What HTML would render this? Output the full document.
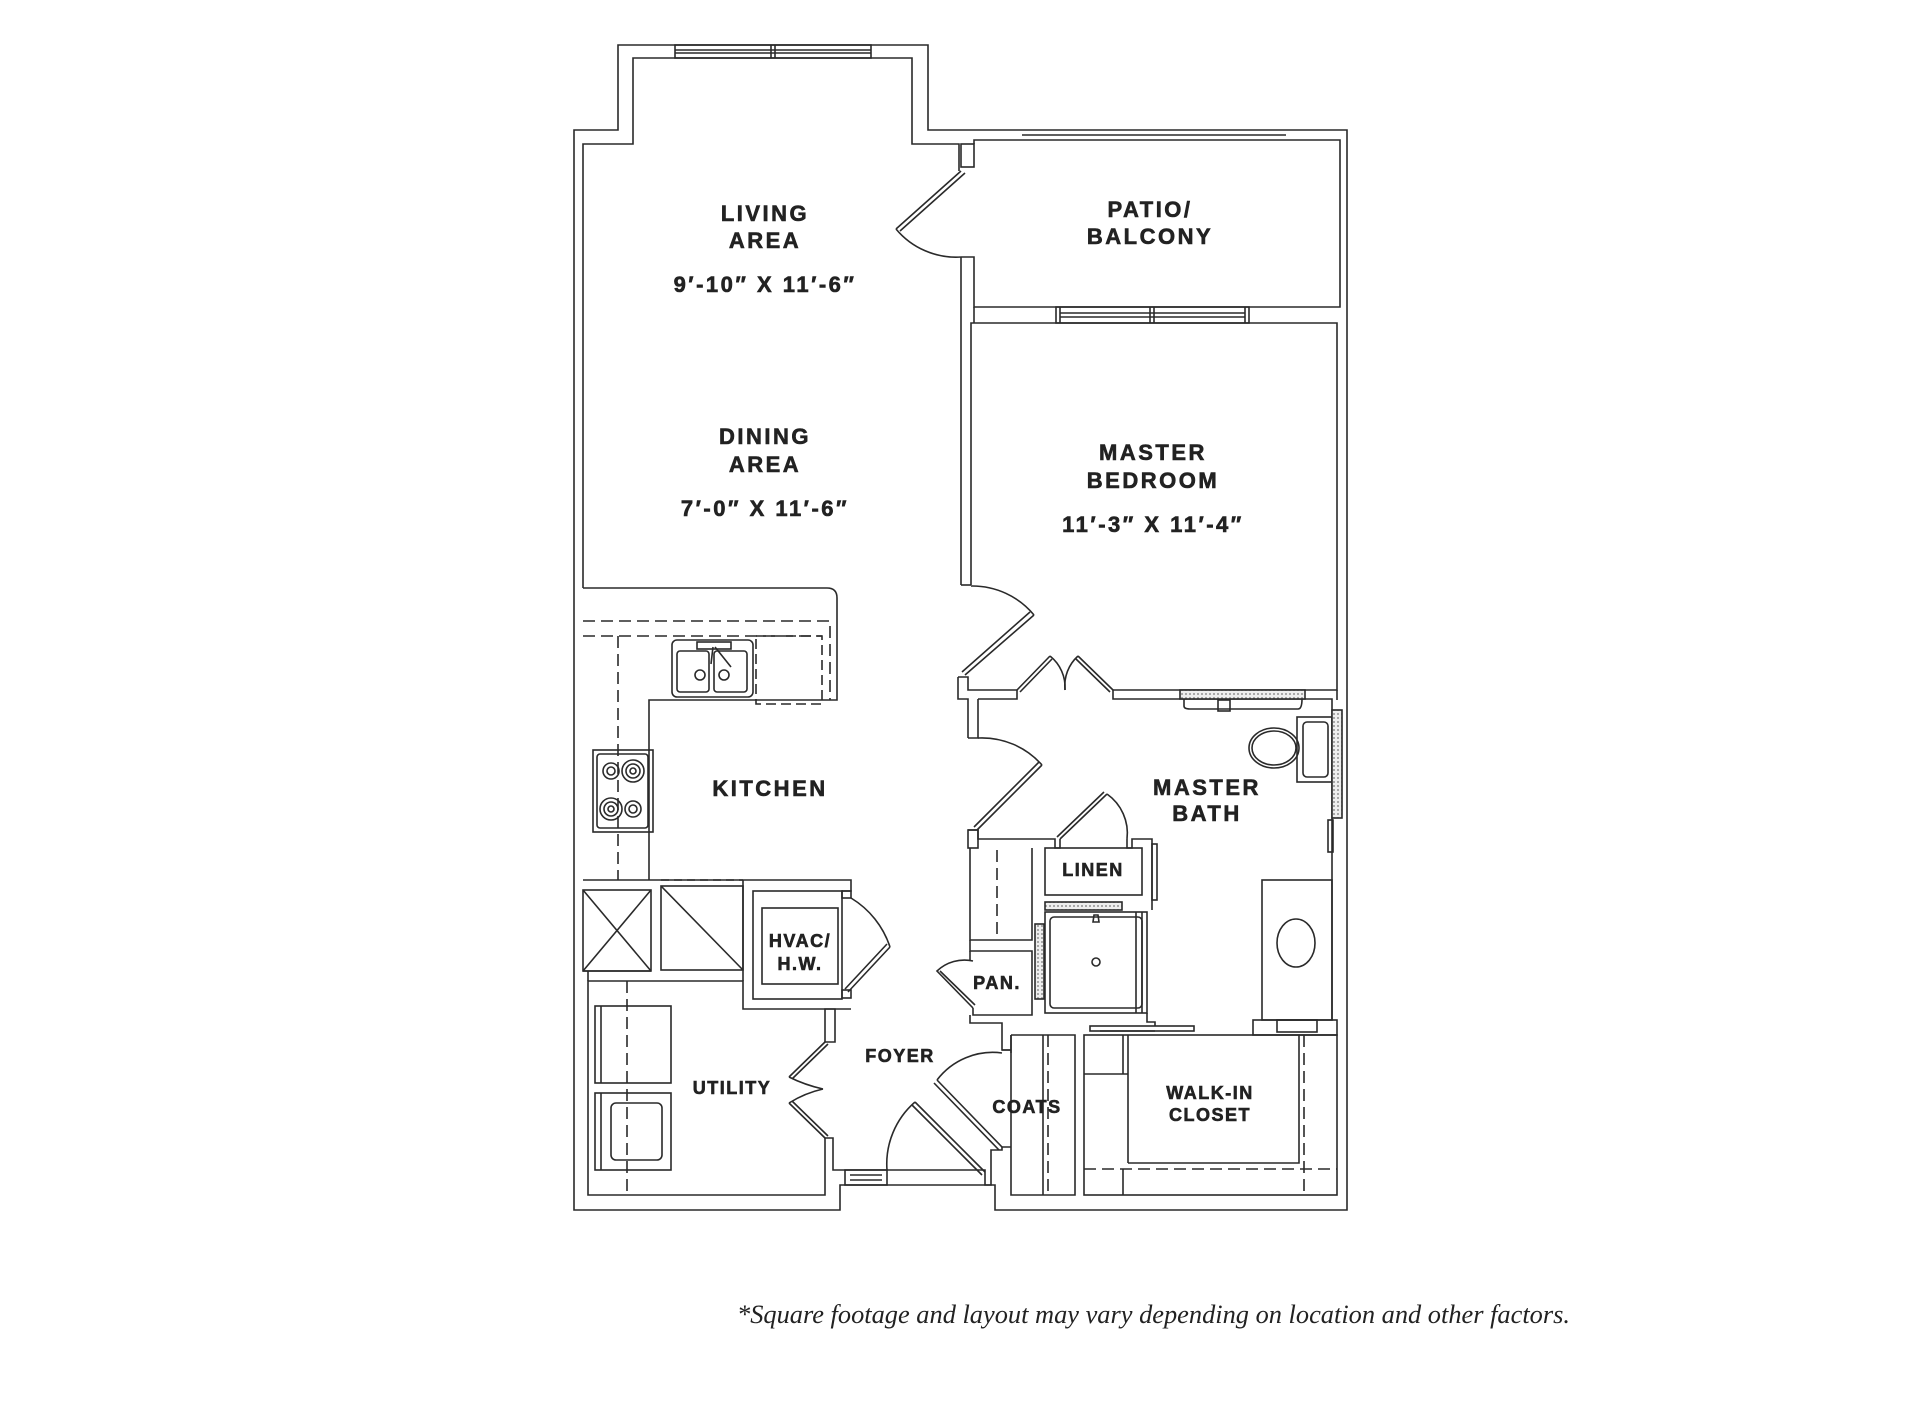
<!DOCTYPE html>
<html><head><meta charset="utf-8"><style>
html,body{margin:0;padding:0;background:#fff;}
svg{display:block;}
.l{font-family:"Liberation Sans",sans-serif;font-weight:bold;fill:#222;stroke:#222;stroke-width:0.6;text-anchor:middle;letter-spacing:2.5px;}
</style></head><body>
<svg width="1920" height="1408" viewBox="0 0 1920 1408" xmlns="http://www.w3.org/2000/svg">
<defs>
<pattern id="dot" width="4" height="4" patternUnits="userSpaceOnUse"><rect width="4" height="4" fill="#eee"/><circle cx="2" cy="2" r="0.9" fill="#777"/></pattern>
</defs>
<g fill="none" stroke="#2a2a2a" stroke-width="1.6">
<path d="M574,1210 V130 H618 V45 H928 V130 H1347 V1210 H995 V1185 H840 V1210 Z"/>
<path d="M583,588 V144 H633 V58 H912 V144 H959 V171"/>
<rect x="675" y="45" width="196" height="13"/>
<line x1="675" y1="50" x2="871" y2="50"/><line x1="675" y1="53" x2="871" y2="53"/>
<line x1="771" y1="45" x2="771" y2="58"/><line x1="775" y1="45" x2="775" y2="58"/>
<rect x="961" y="144" width="13" height="23"/>
<path d="M974,144 V140 H1340 V307 H974 V257 H961"/>
<line x1="1022" y1="135" x2="1286" y2="135"/>
<path d="M961,171 L896,229 M965,173 L900,231"/>
<path d="M896,229 A78,78 0 0 0 961,257"/>
<line x1="961" y1="257" x2="961" y2="585"/>
<line x1="974" y1="307" x2="974" y2="323"/>
<path d="M971,585 V323 H1337 V690 H1113"/>
<rect x="1056" y="307" width="193" height="16"/>
<line x1="1060" y1="307" x2="1060" y2="323"/><line x1="1245" y1="307" x2="1245" y2="323"/>
<line x1="1150" y1="307" x2="1150" y2="323"/><line x1="1154" y1="307" x2="1154" y2="323"/>
<line x1="1060" y1="313" x2="1245" y2="313"/><line x1="1060" y1="317" x2="1245" y2="317"/>
<line x1="961" y1="585" x2="971" y2="585"/>
<path d="M971,586 A80,80 0 0 1 1034,615"/>
<path d="M1034,615 L965,675 M1030,612 L962,672"/>
<path d="M958,677 H968 V690 H1017 M958,677 V699 H968 V738 M978,699 H1017 V690"/>
<path d="M1113,690 V699 H1332 V1020"/>
<line x1="1337" y1="690" x2="1337" y2="700"/>
<path d="M1017,690 L1050,656 M1020,692 L1052,659"/>
<path d="M1050,656 A40,40 0 0 1 1065,690"/>
<path d="M1113,690 L1078,656 M1110,692 L1076,659"/>
<path d="M1078,656 A40,40 0 0 0 1065,690"/>
<path d="M978,699 V738 H968"/>
<path d="M978,738 A80,80 0 0 1 1042,765"/>
<path d="M1042,765 L977,830 M1039,762 L974,827"/>
<path d="M968,830 H978 V839 H1055 V848 H1060 V839"/>
<rect x="968" y="830" width="10" height="18"/>
<path d="M1060,839 L1107,794 M1057,837 L1104,792"/>
<path d="M1107,794 A48,48 0 0 1 1127,839"/>
<path d="M1127,839 V848 H1132 V839 H1152 V910"/>
<rect x="1152" y="844" width="5" height="56"/>
<rect x="1045" y="848" width="97" height="47"/>
<path d="M970,848 V940 H1032 V848"/>
<line x1="997" y1="850" x2="997" y2="940" stroke-dasharray="12,6"/>
<path d="M970,940 V951 H1032 V1015 H973 V1008"/>
<path d="M973,961 A40,40 0 0 0 937,971 L973,1008 M940,971 L975,1005"/>
<line x1="970" y1="951" x2="970" y2="961"/>
<path d="M970,1015 V1023 H1002 V1050 H1011"/>
<rect x="1045" y="912" width="102" height="101"/>
<rect x="1050" y="917" width="92" height="91" rx="4"/>
<line x1="1136" y1="912" x2="1136" y2="1013"/><line x1="1142" y1="912" x2="1142" y2="1013"/>
<rect x="1045" y="902" width="77" height="8" fill="url(#dot)"/>
<rect x="1035" y="924" width="9" height="75" fill="url(#dot)"/>
<circle cx="1096" cy="962" r="4"/>
<path d="M1093,922 L1099,922 L1098,915 L1094,915 Z"/>
<path d="M1147,1013 V1022 H1155 V1026"/>
<rect x="1090" y="1026" width="104" height="5"/>
<line x1="1100" y1="1031" x2="1155" y2="1031"/>
<rect x="1180" y="690" width="125" height="9" fill="url(#dot)"/>
<path d="M1184,699 V706 Q1184,709 1190,709 H1298 Q1302,709 1302,699"/>
<rect x="1218" y="700" width="12" height="11"/>
<rect x="1297" y="717" width="35" height="65"/>
<rect x="1303" y="722" width="25" height="55" rx="4"/>
<ellipse cx="1274" cy="748" rx="25" ry="20"/>
<ellipse cx="1274" cy="748" rx="22" ry="17"/>
<rect x="1332" y="710" width="10" height="108" fill="url(#dot)"/>
<rect x="1328" y="820" width="5" height="32"/>
<rect x="1262" y="880" width="70" height="140"/>
<ellipse cx="1296" cy="943" rx="19" ry="24"/>
<rect x="1253" y="1020" width="84" height="15"/>
<rect x="1277" y="1020" width="40" height="12"/>
<path d="M1011,1050 H1002 M1011,1035 H1075 V1195 H1011 V1035"/>
<line x1="1011" y1="1035" x2="1011" y2="1053"/>
<line x1="1043" y1="1035" x2="1043" y2="1195"/>
<line x1="1048" y1="1035" x2="1048" y2="1195" stroke-dasharray="12,6"/>
<rect x="1084" y="1035" width="253" height="160"/>
<line x1="1128" y1="1035" x2="1128" y2="1163"/>
<line x1="1123" y1="1035" x2="1123" y2="1074"/>
<line x1="1084" y1="1074" x2="1128" y2="1074"/>
<path d="M1128,1163 H1299 V1035"/>
<line x1="1304" y1="1035" x2="1304" y2="1195" stroke-dasharray="12,6"/>
<line x1="1084" y1="1169" x2="1337" y2="1169" stroke-dasharray="12,6"/>
<line x1="1123" y1="1169" x2="1123" y2="1195"/>
<path d="M1011,1147 H1002 V1150 H991 V1185 H985 V1170 H833 V1138 H825"/>
<rect x="845" y="1170" width="42" height="15"/>
<line x1="850" y1="1175" x2="882" y2="1175"/><line x1="850" y1="1180" x2="882" y2="1180"/>
<path d="M985,1172 L915,1102 M982,1175 L912,1105"/>
<path d="M915,1102 A82,82 0 0 0 887,1170"/>
<path d="M1002,1147 L937,1080 M999,1150 L934,1083"/>
<path d="M937,1080 A70,70 0 0 1 1002,1053"/>
<path d="M825,1138 V1195 H588 V981 H743 V1009 H851"/>
<path d="M825,1042 V1009 H835 V1042 H825"/>
<path d="M825,1042 L789,1077 M828,1044 L792,1079"/>
<path d="M789,1077 Q805,1085 823,1089"/>
<path d="M825,1138 L789,1103 M828,1136 L792,1101"/>
<path d="M789,1103 Q805,1093 823,1089"/>
<line x1="627" y1="981" x2="627" y2="1195" stroke-dasharray="12,6"/>
<rect x="595" y="1006" width="76" height="77"/><line x1="601" y1="1006" x2="601" y2="1083"/>
<rect x="595" y="1093" width="76" height="77"/><line x1="601" y1="1093" x2="601" y2="1170"/>
<rect x="611" y="1103" width="51" height="57" rx="5"/>
<path d="M583,880 H851 V891 H842 V891 M743,880 V981"/>
<path d="M583,971 H651 M588,981 V971"/>
<rect x="753" y="891" width="89" height="108"/>
<rect x="762" y="908" width="76" height="76"/>
<rect x="842" y="891" width="9" height="7"/><rect x="842" y="990" width="9" height="8"/>
<path d="M848,992 L890,947 M845,989 L887,944"/>
<path d="M851,898 A90,90 0 0 1 890,947"/>
<rect x="583" y="890" width="68" height="81"/>
<line x1="583" y1="890" x2="651" y2="971"/><line x1="651" y1="890" x2="583" y2="971"/>
<rect x="661" y="886" width="82" height="84"/>
<line x1="661" y1="886" x2="743" y2="970"/>
<line x1="661" y1="880" x2="743" y2="880" stroke-dasharray="8,5"/>
<path d="M583,588 H827 Q837,588 837,598 V700 H649 V880"/>
<path d="M583,621 H830 V700" stroke-dasharray="12,6"/>
<line x1="583" y1="636" x2="822" y2="636" stroke-dasharray="12,6"/>
<rect x="756" y="636" width="66" height="68" stroke-dasharray="10,5"/>
<line x1="618" y1="636" x2="618" y2="880" stroke-dasharray="12,6"/>
<rect x="672" y="640" width="81" height="57" rx="5"/>
<rect x="677" y="651" width="32" height="41" rx="3"/>
<rect x="714" y="651" width="33" height="41" rx="3"/>
<rect x="697" y="642" width="34" height="7"/>
<circle cx="700" cy="675" r="5"/><circle cx="724" cy="675" r="5"/>
<path d="M713,647 L711,664 M715,647 L731,667"/>
<rect x="593" y="750" width="60" height="82"/>
<rect x="597" y="754" width="51" height="74" rx="3"/>
<circle cx="611" cy="771" r="8"/><circle cx="611" cy="771" r="4"/>
<circle cx="633" cy="771" r="11"/><circle cx="633" cy="771" r="7"/><circle cx="633" cy="771" r="3"/>
<circle cx="611" cy="809" r="11"/><circle cx="611" cy="809" r="7"/><circle cx="611" cy="809" r="3"/>
<circle cx="633" cy="809" r="8"/><circle cx="633" cy="809" r="4"/>
</g>
<g class="l" font-size="22">
<text x="765" y="221">LIVING</text>
<text x="765" y="248">AREA</text>
<text x="765" y="292">9′-10″ X 11′-6″</text>
<text x="1150" y="217">PATIO/</text>
<text x="1150" y="244">BALCONY</text>
<text x="765" y="444">DINING</text>
<text x="765" y="472">AREA</text>
<text x="765" y="516">7′-0″ X 11′-6″</text>
<text x="1153" y="460">MASTER</text>
<text x="1153" y="488">BEDROOM</text>
<text x="1153" y="532">11′-3″ X 11′-4″</text>
<text x="770" y="796">KITCHEN</text>
<text x="1207" y="795">MASTER</text>
<text x="1207" y="821">BATH</text>
</g>
<g class="l" font-size="18" style="letter-spacing:1.5px">
<text x="1093" y="876">LINEN</text>
<text x="800" y="947">HVAC/</text>
<text x="800" y="970">H.W.</text>
<text x="997" y="989">PAN.</text>
<text x="732" y="1094">UTILITY</text>
<text x="900" y="1062">FOYER</text>
<text x="1027" y="1113">COATS</text>
<text x="1210" y="1099">WALK-IN</text>
<text x="1210" y="1121">CLOSET</text>
</g>
<text x="737" y="1323" textLength="833" lengthAdjust="spacingAndGlyphs" font-family="Liberation Serif, serif" font-style="italic" font-size="26" fill="#222">*Square footage and layout may vary depending on location and other factors.</text>
</svg>
</body></html>
